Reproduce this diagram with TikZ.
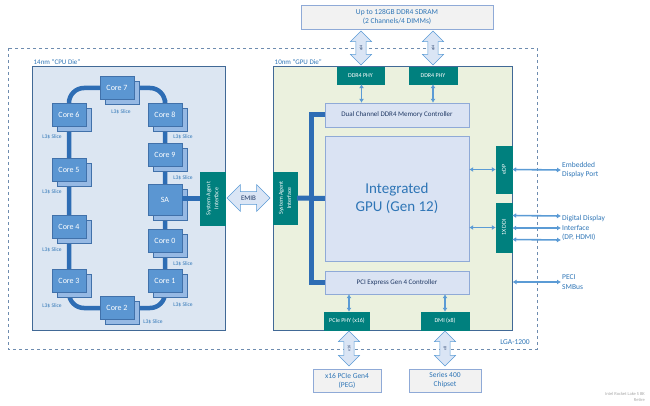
\documentclass[tikz,border=0pt]{standalone}
\usepackage{fontspec}
\setmainfont{Carlito}
\usepackage{graphicx}
\usepackage{tikz}
\usetikzlibrary{shapes.arrows, shadows, arrows.meta}

\definecolor{cpufill}{RGB}{220,230,242}
\definecolor{gpufill}{RGB}{235,241,222}
\definecolor{dieedge}{RGB}{65,105,150}
\definecolor{coreblue}{RGB}{91,150,210}
\definecolor{coreedge}{RGB}{65,113,170}
\definecolor{sliceblue}{RGB}{150,185,228}
\definecolor{ringblue}{RGB}{46,109,180}
\definecolor{tealgreen}{RGB}{0,128,126}
\definecolor{textblue}{RGB}{46,117,182}
\definecolor{darktext}{RGB}{31,56,100}
\definecolor{blockfill}{RGB}{218,227,243}
\definecolor{blockedge}{RGB}{143,170,215}
\definecolor{extfill}{RGB}{242,242,242}
\definecolor{arrowfill}{RGB}{218,229,245}
\definecolor{arrowblue}{RGB}{91,155,213}
\definecolor{pkgline}{RGB}{110,140,175}

\tikzset{
  package/.style={draw=pkgline, dashed, line width=0.8pt},
  pkgtext/.style={text=textblue, font=\fontsize{7.5}{8}\selectfont},
  diebox/.style={draw=dieedge, line width=1pt, inner sep=0pt, minimum height=263pt},
  dietext/.style={text=textblue, inner sep=2pt, font=\fontsize{7}{8}\selectfont},
  corenode/.style={draw=coreedge, fill=coreblue, text=white, minimum width=34pt,
    minimum height=23pt, inner sep=0pt, font=\fontsize{8}{9}\selectfont,
    general shadow={shadow xshift=5pt, shadow yshift=-5pt, fill=sliceblue, draw=coreedge}},
  slicetext/.style={text=textblue, inner sep=0pt, font=\fontsize{5.5}{6}\selectfont},
  ringbus/.style={draw=ringblue, line width=4.5pt},
  tealbox/.style={draw=tealgreen, fill=tealgreen, text=white, inner sep=0pt,
    font=\fontsize{6}{6.5}\selectfont},
  gpublock/.style={draw=blockedge, fill=blockfill, text=darktext, inner sep=0pt,
    minimum width=144pt, font=\fontsize{7}{8}\selectfont},
  extbox/.style={draw=blockedge, line width=0.8pt, fill=extfill, text=textblue, inner sep=0pt,
    align=center, font=\fontsize{7.5}{9}\selectfont},
  widearrow/.style={double arrow, draw=arrowblue, fill=arrowfill, text=darktext,
    double arrow head extend=5.5pt, inner xsep=1pt, inner ysep=3.5pt, font=\fontsize{4}{4}\selectfont},
  link/.style={draw=arrowblue, line width=1.6pt, {Latex[length=4pt,width=5pt]}-{Latex[length=4pt,width=5pt]}},
  sidetext/.style={text=textblue, align=left, inner sep=1pt, font=\fontsize{7.5}{9.5}\selectfont}
}

\begin{document}
\begin{tikzpicture}[x=1pt, y=-1pt]
\useasboundingbox (0,0) rectangle (650,406);

% package
\draw[package] (8,48) rectangle (537,349);
\node[pkgtext] (lga) at (515,342) {LGA-1200};

% dies
\node[diebox, fill=cpufill, minimum width=193pt] (cpudie) at (128.5,198.5) {};
\node[diebox, fill=gpufill, minimum width=239pt] (gpudie) at (392.5,198.5) {};
\node[dietext, anchor=south west] (cpulabel) at (cpudie.north west) {14nm “CPU Die”};
\node[dietext, anchor=south west] (gpulabel) at (gpudie.north west) {10nm “GPU Die”};

% ring stops
\foreach \n/\x/\y in {0/165/241, 1/165/281, 2/117/308, 3/69/281, 4/69/227,
                      5/69/170, 6/69/115, 7/117/88, 8/165/115, 9/165/155}
  \coordinate (k\n) at (\x,\y);

\draw[ringbus, rounded corners=15pt] (k5) -- (k6) |- (k7) -| (k8) -- (k1) |- (k2) -| (k3) -- cycle;

% cores
\foreach \n in {0,...,9}
  \node[corenode] (c\n) at (k\n) {Core \n};
\node[corenode, general shadow={}, minimum height=31pt] (sa) at (165,199.5) {SA};

% L3$ slices
\foreach \x/\y in {52/137, 52/192, 52/250, 52/306, 121/112, 153/322,
                   183/137, 183/178, 183/264, 183/305}
  \node[slicetext] at (\x,\y) {L3\$ Slice};

% system agent interfaces
\node[tealbox, minimum width=25pt, minimum height=53pt] (csai) at (212.5,198.5)
  {\rotatebox{90}{\shortstack{System Agent\\Interface}}};
\node[tealbox, minimum width=24pt, minimum height=52pt] (gsai) at (285,198)
  {\rotatebox{90}{\shortstack{System Agent\\Interface}}};
\draw[ringbus, line width=5pt] (sa.east |- csai.west) -- (csai.west);
\node[widearrow, double arrow head extend=7pt, inner ysep=4pt, minimum height=43pt,
  font=\fontsize{7}{8}\selectfont] (emib) at (248.5,198) {EMIB};

% gpu blocks
\node[gpublock, minimum height=24pt] (mc) at (397,115) {Dual Channel DDR4 Memory Controller};
\node[gpublock, minimum height=125pt, text=textblue, align=center,
  font=\fontsize{15}{18}\selectfont] (igpu) at (397,198.5) {Integrated\\GPU (Gen 12)};
\node[gpublock, minimum height=23pt] (pcie) at (397,282.5) {PCI Express Gen 4 Controller};

\draw[ringbus, line width=5pt] (mc.west) -- ++(-13,0) |- (pcie.west);
\draw[ringbus, line width=5pt] (gsai.east) -- (igpu.west);

% phys
\node[tealbox, minimum width=47pt, minimum height=17pt] (phya) at (360.5,75.5) {DDR4 PHY};
\node[tealbox, minimum width=48pt, minimum height=17pt] (phyb) at (433,75.5) {DDR4 PHY};
\node[tealbox, minimum width=45pt, minimum height=18pt] (pciephy) at (347,321) {PCIe PHY (x16)};
\node[tealbox, minimum width=48pt, minimum height=18pt] (dmi) at (445,321) {DMI (x8)};
\node[tealbox, minimum width=16pt, minimum height=47pt] (edp) at (504,169.5) {\rotatebox{90}{eDP}};
\node[tealbox, minimum width=16pt, minimum height=49pt] (ddi) at (504,227.5) {\rotatebox{90}{1X DDI}};

\draw[link] ([xshift=1pt]phya.south) -- ([xshift=1pt]phya.south |- mc.north);
\draw[link] (phyb.south) -- (phyb.south |- mc.north);
\draw[link] ([xshift=2pt]pciephy.north) -- ([xshift=2pt]pciephy.north |- pcie.south);
\draw[link] (dmi.north) -- (dmi.north |- pcie.south);
\draw[link] (igpu.east |- edp.west) -- (edp.west);
\draw[link] (igpu.east |- ddi.west) -- (ddi.west);

% outside
\node[extbox, minimum width=192pt, minimum height=24pt] (dram) at (397,17)
  {Up to 128GB DDR4 SDRAM\\(2 Channels/4 DIMMs)};
\node[extbox, minimum width=68pt, minimum height=23pt] (peg) at (347,380.5) {x16 PCIe Gen4\\(PEG)};
\node[extbox, minimum width=72pt, minimum height=23pt] (pch) at (445,380.5) {Series 400\\Chipset};

\node[widearrow, rotate=90, minimum height=34pt] (bwa) at (361,48) {x64};
\node[widearrow, rotate=90, minimum height=34pt] (bwb) at (433,48) {x64};
\node[widearrow, rotate=90, minimum height=35pt] (bwc) at (349,348.5) {x16};
\node[widearrow, rotate=90, minimum height=35pt] (bwd) at (445,348.5) {x8};

\node[sidetext, anchor=west] (edpl) at (561,170) {Embedded\\Display Port};
\node[sidetext, anchor=west] (ddil) at (561,228) {Digital Display\\Interface\\(DP, HDMI)};
\node[sidetext, anchor=west] (pecil) at (561,282) {PECI\\SMBus};

\draw[link] (edp.east) -- (edpl.west);
\draw[link] ([yshift=12pt]ddi.east) -- ([yshift=12pt]ddil.west);
\draw[link] (ddi.east |- ddil.west) -- (ddil.west);
\draw[link] ([yshift=-12pt]ddi.east) -- ([yshift=-12pt]ddil.west);
\draw[link] (gpudie.east |- pecil.west) -- (pecil.west);

\node[text=gray!70, align=right, anchor=east, inner sep=0pt, font=\fontsize{4.5}{6}\selectfont]
  (note) at (645,397) {Intel Rocket Lake S BK\\Retire};

\end{tikzpicture}
\end{document}
